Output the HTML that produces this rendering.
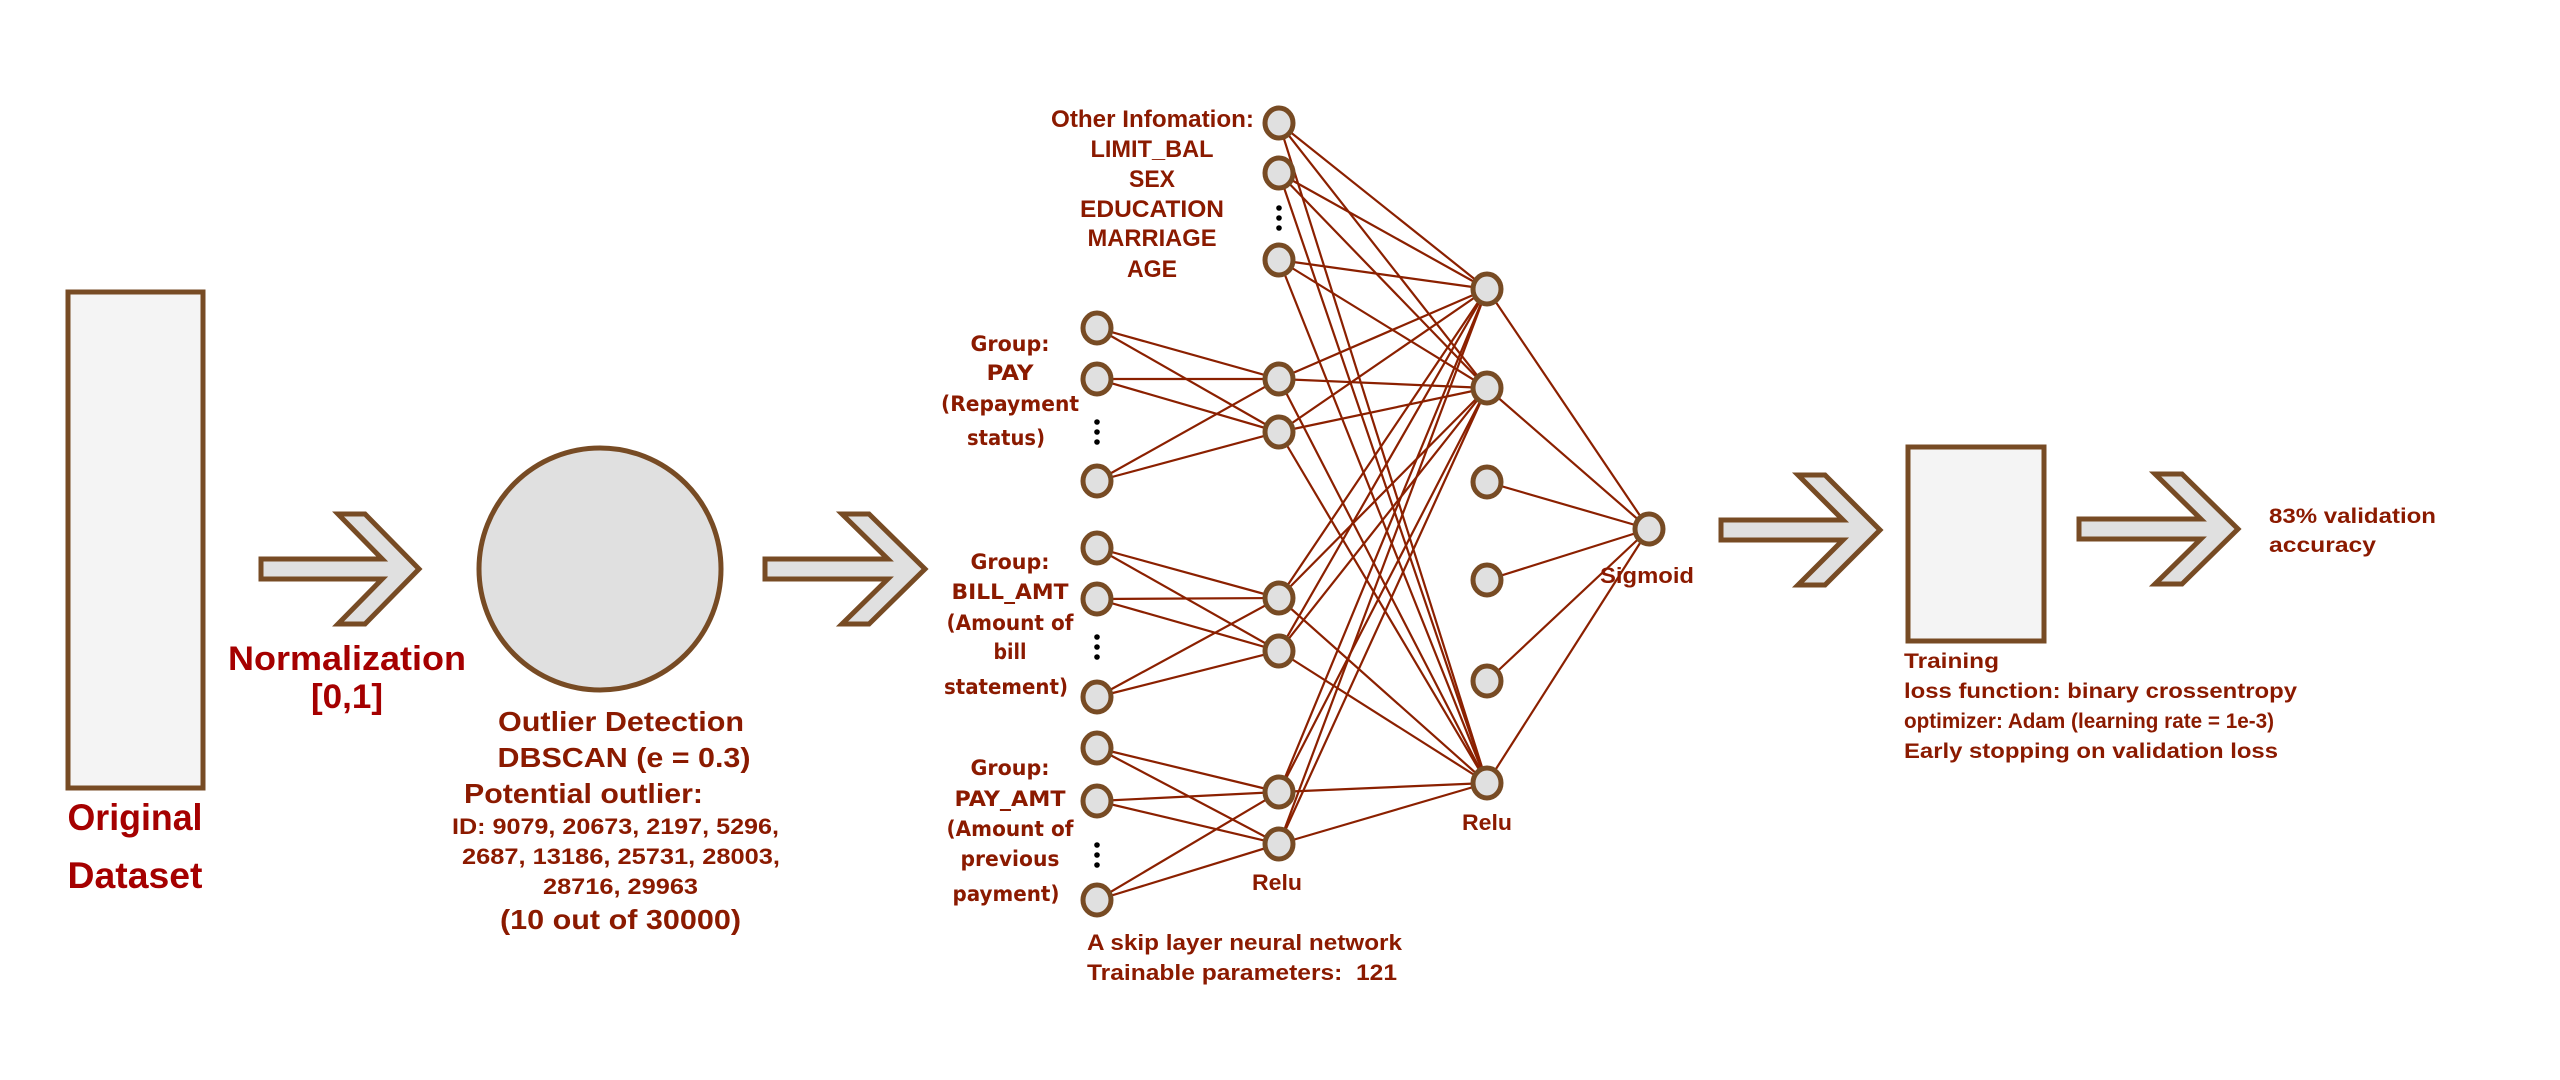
<!DOCTYPE html>
<html><head><meta charset="utf-8"><style>
html,body{margin:0;padding:0;background:#fff;}
svg{display:block}
text{font-family:"Liberation Sans",sans-serif;font-weight:bold;fill:#8b1a00;white-space:pre}
.g{font-family:"DejaVu Sans","Liberation Sans",sans-serif;font-size:21px;text-anchor:middle}
.r{fill:#a50000}
</style></head><body>
<svg id="s" width="2560" height="1080" viewBox="0 0 2560 1080" xmlns="http://www.w3.org/2000/svg">
<rect x="68" y="292" width="135" height="496" fill="#f4f4f4" stroke="#774b24" stroke-width="5"/>
<ellipse cx="600" cy="569" rx="121" ry="121" fill="#e0e0e0" stroke="#774b24" stroke-width="5"/>
<rect x="1908" y="447" width="136" height="194" fill="#f4f4f4" stroke="#774b24" stroke-width="5"/>
<g id="lines" stroke="#8b2000" stroke-width="2.2"></g>
<g id="arrows" fill="#e0e0e0" stroke="#774b24" stroke-width="5" stroke-linejoin="miter"></g>
<g id="nodes" fill="#e0e0e0" stroke="#774b24" stroke-width="5"></g>
<g id="dots" fill="#000"></g>

<text class="r" x="135" y="830" font-size="37" text-anchor="middle" textLength="135" lengthAdjust="spacingAndGlyphs">Original</text>
<text class="r" x="135" y="888" font-size="37" text-anchor="middle" textLength="135" lengthAdjust="spacingAndGlyphs">Dataset</text>
<text class="r" x="347" y="670" font-size="34" text-anchor="middle" textLength="238" lengthAdjust="spacingAndGlyphs">Normalization</text>
<text class="r" x="347" y="708" font-size="34" text-anchor="middle" textLength="72" lengthAdjust="spacingAndGlyphs">[0,1]</text>

<text x="621" y="731" font-size="28" text-anchor="middle" textLength="246" lengthAdjust="spacingAndGlyphs">Outlier Detection</text>
<text x="624" y="767" font-size="28" text-anchor="middle" textLength="253" lengthAdjust="spacingAndGlyphs">DBSCAN (e = 0.3)</text>
<text x="464" y="803" font-size="28" textLength="239" lengthAdjust="spacingAndGlyphs">Potential outlier:</text>
<text x="452" y="834" font-size="22" textLength="327" lengthAdjust="spacingAndGlyphs">ID: 9079, 20673, 2197, 5296,</text>
<text x="462" y="864" font-size="22" textLength="318" lengthAdjust="spacingAndGlyphs">2687, 13186, 25731, 28003,</text>
<text x="543" y="894" font-size="22" textLength="155" lengthAdjust="spacingAndGlyphs">28716, 29963</text>
<text x="500" y="929" font-size="28" textLength="241" lengthAdjust="spacingAndGlyphs">(10 out of 30000)</text>

<text x="1051" y="127" font-size="24" textLength="203" lengthAdjust="spacingAndGlyphs">Other Infomation:</text>
<text x="1152" y="157" font-size="24" text-anchor="middle" textLength="123" lengthAdjust="spacingAndGlyphs">LIMIT_BAL</text>
<text x="1152" y="187" font-size="24" text-anchor="middle" textLength="46" lengthAdjust="spacingAndGlyphs">SEX</text>
<text x="1152" y="217" font-size="24" text-anchor="middle" textLength="144" lengthAdjust="spacingAndGlyphs">EDUCATION</text>
<text x="1152" y="246" font-size="24" text-anchor="middle" textLength="129" lengthAdjust="spacingAndGlyphs">MARRIAGE</text>
<text x="1152" y="277" font-size="24" text-anchor="middle" textLength="50" lengthAdjust="spacingAndGlyphs">AGE</text>

<text class="g" x="1010" y="351" textLength="79" lengthAdjust="spacingAndGlyphs">Group:</text>
<text class="g" x="1010" y="380" textLength="47" lengthAdjust="spacingAndGlyphs">PAY</text>
<text class="g" x="1010" y="411" textLength="138" lengthAdjust="spacingAndGlyphs">(Repayment</text>
<text class="g" x="1006" y="445" textLength="78" lengthAdjust="spacingAndGlyphs">status)</text>

<text class="g" x="1010" y="569" textLength="79" lengthAdjust="spacingAndGlyphs">Group:</text>
<text class="g" x="1010" y="599" textLength="117" lengthAdjust="spacingAndGlyphs">BILL_AMT</text>
<text class="g" x="1010" y="630" textLength="127" lengthAdjust="spacingAndGlyphs">(Amount of</text>
<text class="g" x="1010" y="659" textLength="33" lengthAdjust="spacingAndGlyphs">bill</text>
<text class="g" x="1006" y="694" textLength="124" lengthAdjust="spacingAndGlyphs">statement)</text>

<text class="g" x="1010" y="775" textLength="79" lengthAdjust="spacingAndGlyphs">Group:</text>
<text class="g" x="1010" y="806" textLength="111" lengthAdjust="spacingAndGlyphs">PAY_AMT</text>
<text class="g" x="1010" y="836" textLength="127" lengthAdjust="spacingAndGlyphs">(Amount of</text>
<text class="g" x="1010" y="866" textLength="99" lengthAdjust="spacingAndGlyphs">previous</text>
<text class="g" x="1006" y="901" textLength="107" lengthAdjust="spacingAndGlyphs">payment)</text>

<text x="1277" y="890" font-size="22" text-anchor="middle" textLength="50" lengthAdjust="spacingAndGlyphs">Relu</text>
<text x="1487" y="830" font-size="22" text-anchor="middle" textLength="50" lengthAdjust="spacingAndGlyphs">Relu</text>
<text x="1647" y="583" font-size="22" text-anchor="middle" textLength="94" lengthAdjust="spacingAndGlyphs">Sigmoid</text>
<text x="1087" y="950" font-size="22" textLength="315" lengthAdjust="spacingAndGlyphs">A skip layer neural network</text>
<text x="1087" y="980" font-size="22" textLength="310" lengthAdjust="spacingAndGlyphs" xml:space="preserve">Trainable parameters:  121</text>

<text x="1904" y="668" font-size="21" textLength="95" lengthAdjust="spacingAndGlyphs">Training</text>
<text x="1904" y="698" font-size="21" textLength="393" lengthAdjust="spacingAndGlyphs">loss function: binary crossentropy</text>
<text x="1904" y="728" font-size="21" textLength="370" lengthAdjust="spacingAndGlyphs">optimizer: Adam (learning rate = 1e-3)</text>
<text x="1904" y="758" font-size="21" textLength="374" lengthAdjust="spacingAndGlyphs">Early stopping on validation loss</text>

<text x="2269" y="523" font-size="21" textLength="167" lengthAdjust="spacingAndGlyphs">83% validation</text>
<text x="2269" y="552" font-size="21" textLength="107" lengthAdjust="spacingAndGlyphs">accuracy</text>
</svg>
<script>
var NS="http://www.w3.org/2000/svg";
function el(p,n,a){var e=document.createElementNS(NS,n);for(var k in a)e.setAttribute(k,a[k]);document.getElementById(p).appendChild(e);return e;}
function arrow(x0,xb,xt,yc){var t=27,H=55,h=10;
 var xi=xb+(xt-t-xb)*(H-h)/H;
 var pts=[[xb,yc-H],[xb+t,yc-H],[xt,yc],[xb+t,yc+H],[xb,yc+H],[xi,yc+h],[x0,yc+h],[x0,yc-h],[xi,yc-h]];
 el("arrows","polygon",{points:pts.map(function(p){return p.join(",")}).join(" ")});}
arrow(261,338,419,569);
arrow(765,842,925,569);
arrow(1721,1798,1880,530);
arrow(2079,2155,2238,529);
var IX=1097,HX=1279,H2X=1487,SX=1649;
var other=[123,173,260];
var groups=[[[328,379,481],[379,432],432],[[548,599,697],[598,651],647],[[748,801,900],[792,844],855]];
var h2=[289,388,482,580,681,783], act=[289,388,783];
function ln(a,b,c,d){el("lines","line",{x1:a,y1:b,x2:c,y2:d});}
other.forEach(function(y){act.forEach(function(z){ln(HX,y,H2X,z);});});
groups.forEach(function(g){g[0].forEach(function(y){g[1].forEach(function(z){ln(IX,y,HX,z);});});
 g[1].forEach(function(y){act.forEach(function(z){ln(HX,y,H2X,z);});});});
h2.forEach(function(y){ln(H2X,y,SX,529);});
function node(x,y){el("nodes","ellipse",{cx:x,cy:y,rx:14,ry:15});}
function dots(x,y){[-10,0,10].forEach(function(d){el("dots","circle",{cx:x,cy:y+d,r:2.8});});}
other.forEach(function(y){node(HX,y);});dots(HX,218);
groups.forEach(function(g){g[0].forEach(function(y){node(IX,y);});g[1].forEach(function(y){node(HX,y);});dots(IX,g[2]);});
h2.forEach(function(y){node(H2X,y);});
node(SX,529);
</script>
</body></html>
